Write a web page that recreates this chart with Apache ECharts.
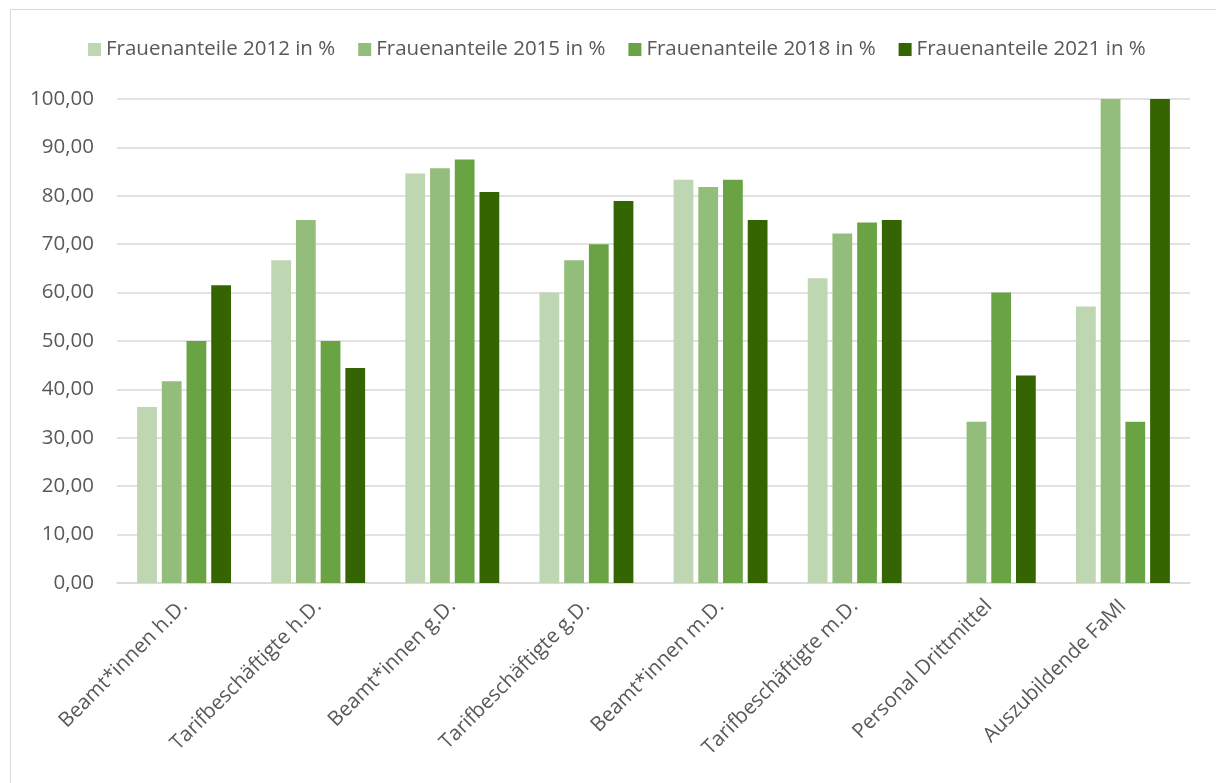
<!DOCTYPE html>
<html>
<head>
<meta charset="utf-8">
<script src="https://cdn.jsdelivr.net/npm/echarts@6/dist/echarts.min.js"></script>
<style>
html,body{margin:0;padding:0;background:#fff;}
#frame{position:absolute;left:10px;top:9px;width:1240px;height:800px;border:1.5px solid #d9d9d9;box-sizing:border-box;}
#chart{position:absolute;left:0;top:0;width:1216px;height:783px;}
</style>
</head>
<body>
<div id="frame"></div>
<div id="chart"></div>
<script>
const categories = ['Beamt*innen h.D.','Tarifbeschäftigte h.D.','Beamt*innen g.D.','Tarifbeschäftigte g.D.','Beamt*innen m.D.','Tarifbeschäftigte m.D.','Personal Drittmittel','Auszubildende FaMI'];
const seriesNames = ['Frauenanteile 2012 in %','Frauenanteile 2015 in %','Frauenanteile 2018 in %','Frauenanteile 2021 in %'];
const v2012 = [36.36, 66.67, 84.62, 60.00, 83.33, 62.96, null, 57.14];
const v2015 = [41.67, 75.00, 85.71, 66.67, 81.82, 72.22, 33.33, 100.00];
const v2018 = [50.00, 50.00, 87.50, 70.00, 83.33, 74.47, 60.00, 33.33];
const v2021 = [61.54, 44.44, 80.77, 78.95, 75.00, 75.00, 42.86, 100.00];
const colors = ['#bed6b2','#93bd7a','#6aa343','#356500'];
const allValues = [v2012, v2015, v2018, v2021];

const chart = echarts.init(document.getElementById('chart'));
const font = '"Open Sans", "Noto Sans", sans-serif';
chart.setOption({
  animation:false,
  textStyle:{fontFamily:font},
  legend:{
    top:34, left:83, itemWidth:13, itemHeight:13, itemGap:23,
    icon:'rect',
    textStyle:{fontSize:20.5, color:'#595959', fontFamily:font},
    data:seriesNames
  },
  grid:{left:117, right:26, top:99, bottom:200, containLabel:false},
  xAxis:{
    type:'category', data:categories,
    axisLine:{lineStyle:{color:'#d9d9d9', width:1.5}},
    axisTick:{show:false},
    axisLabel:{rotate:45, fontSize:20.5, color:'#595959', fontFamily:font, margin:20, interval:0}
  },
  yAxis:{
    type:'value', min:0, max:100, interval:10,
    axisLine:{show:false}, axisTick:{show:false},
    splitLine:{lineStyle:{color:'#d9d9d9', width:1.5}},
    axisLabel:{fontSize:20.5, color:'#595959', fontFamily:font, margin:23,
      formatter:v=>v.toFixed(2).replace('.',',')}
  },
  series: seriesNames.map((n,i)=>({
    name:n, type:'bar', data:allValues[i],
    itemStyle:{color:colors[i]},
    barGap:'25%', barCategoryGap:'30%'
  }))
});
</script>
</body>
</html>
